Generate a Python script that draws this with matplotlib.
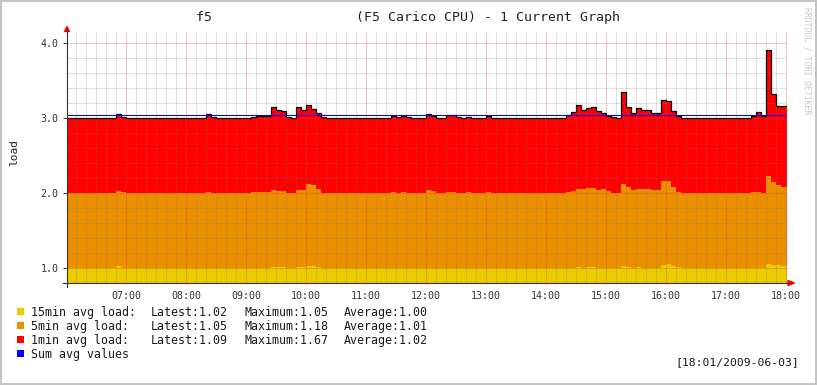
import numpy as np
import matplotlib
matplotlib.use("Agg")
import matplotlib.pyplot as plt
from matplotlib.patches import Rectangle, Polygon
from matplotlib.lines import Line2D

plt.rcParams["font.family"] = ["DejaVu Sans Mono", "DejaVu Sans"]

# ==================== data: 5 min steps from 06:00 to 18:00 ====================
# one row = one hour (12 steps)
load_15min = [
    1.00, 1.00, 1.00, 1.00, 1.00, 1.00, 1.00, 1.00, 1.00, 1.00, 1.02, 1.005,
    1.00, 1.00, 1.00, 1.00, 1.00, 1.00, 1.00, 1.00, 1.00, 1.00, 1.00, 1.00,
    1.00, 1.00, 1.00, 1.00, 1.00, 1.00, 1.00, 1.00, 1.00, 1.00, 1.00, 1.00,
    1.00, 1.00, 1.00, 1.00, 1.00, 1.015, 1.01, 1.01, 1.00, 1.00, 1.01, 1.01,
    1.03, 1.03, 1.015, 1.00, 1.00, 1.00, 1.00, 1.00, 1.00, 1.00, 1.00, 1.00,
    1.00, 1.00, 1.00, 1.00, 1.00, 1.00, 1.00, 1.00, 1.00, 1.00, 1.00, 1.00,
    1.00, 1.00, 1.00, 1.00, 1.00, 1.00, 1.00, 1.00, 1.00, 1.00, 1.00, 1.00,
    1.00, 1.00, 1.00, 1.00, 1.00, 1.00, 1.00, 1.00, 1.00, 1.00, 1.00, 1.00,
    1.00, 1.00, 1.00, 1.00, 1.00, 1.00, 1.01, 1.00, 1.01, 1.01, 1.00, 1.00,
    1.00, 1.00, 1.00, 1.02, 1.01, 1.00, 1.01, 1.00, 1.00, 1.00, 1.00, 1.04,
    1.05, 1.03, 1.01, 1.00, 1.00, 1.00, 1.00, 1.00, 1.00, 1.00, 1.00, 1.00,
    1.00, 1.00, 1.00, 1.00, 1.00, 1.00, 1.00, 1.00, 1.05, 1.045, 1.04, 1.03,
]
load_5min = [
    1.00, 1.00, 1.00, 1.00, 1.00, 1.00, 1.00, 1.00, 1.00, 1.00, 1.01, 1.005,
    1.00, 1.00, 1.00, 1.00, 1.00, 1.00, 1.00, 1.00, 1.00, 1.00, 1.00, 1.00,
    1.00, 1.00, 1.00, 1.00, 1.01, 1.00, 1.00, 1.00, 1.00, 1.00, 1.00, 1.00,
    1.00, 1.01, 1.01, 1.01, 1.01, 1.03, 1.02, 1.02, 1.005, 1.005, 1.03, 1.03,
    1.09, 1.07, 1.04, 1.00, 1.00, 1.00, 1.00, 1.00, 1.00, 1.00, 1.00, 1.00,
    1.00, 1.00, 1.00, 1.00, 1.00, 1.018, 1.00, 1.018, 1.00, 1.00, 1.00, 1.00,
    1.045, 1.02, 1.00, 1.00, 1.018, 1.018, 1.00, 1.00, 1.01, 1.00, 1.00, 1.00,
    1.01, 1.00, 1.00, 1.00, 1.00, 1.00, 1.00, 1.00, 1.00, 1.00, 1.00, 1.00,
    1.00, 1.00, 1.00, 1.00, 1.013, 1.02, 1.048, 1.05, 1.052, 1.057, 1.04, 1.05,
    1.02, 1.005, 1.005, 1.105, 1.07, 1.035, 1.048, 1.05, 1.058, 1.035, 1.035, 1.12,
    1.11, 1.05, 1.008, 1.00, 1.00, 1.00, 1.00, 1.00, 1.00, 1.00, 1.00, 1.00,
    1.00, 1.00, 1.00, 1.00, 1.00, 1.013, 1.018, 1.00, 1.18, 1.105, 1.06, 1.045,
]
load_1min = [
    1.00, 1.00, 1.00, 1.00, 1.00, 1.00, 1.00, 1.00, 1.00, 1.00, 1.02, 1.00,
    1.00, 1.00, 1.00, 1.00, 1.00, 1.00, 1.00, 1.00, 1.00, 1.00, 1.00, 1.00,
    1.00, 1.00, 1.00, 1.00, 1.04, 1.01, 1.00, 1.00, 1.00, 1.00, 1.00, 1.00,
    1.00, 1.00, 1.01, 1.01, 1.01, 1.105, 1.07, 1.06, 1.005, 0.99, 1.10, 1.06,
    1.05, 1.02, 1.005, 1.01, 1.00, 1.00, 1.00, 1.00, 1.00, 1.00, 1.00, 1.00,
    1.00, 1.00, 1.00, 1.00, 1.00, 1.012, 1.01, 1.002, 1.01, 1.00, 1.00, 1.00,
    1.005, 1.00, 1.00, 1.00, 1.017, 1.017, 1.01, 1.00, 1.00, 1.00, 1.00, 1.00,
    1.01, 1.00, 1.00, 1.00, 1.00, 1.00, 1.00, 1.00, 1.00, 1.00, 1.00, 1.00,
    1.00, 1.00, 1.00, 1.00, 1.027, 1.055, 1.112, 1.055, 1.068, 1.078, 1.05, 1.015,
    1.01, 1.01, 0.99, 1.215, 1.065, 1.035, 1.072, 1.055, 1.047, 1.025, 1.025, 1.08,
    1.065, 1.01, 1.002, 1.00, 1.00, 1.00, 1.00, 1.00, 1.00, 1.00, 1.00, 1.00,
    1.00, 1.00, 1.00, 1.00, 1.00, 1.007, 1.067, 1.02, 1.67, 1.175, 1.06, 1.085,
]
hour_labels = ["07:00", "08:00", "09:00", "10:00", "11:00", "12:00",
               "13:00", "14:00", "15:00", "16:00", "17:00", "18:00"]
y_labels = ["1.0", "2.0", "3.0", "4.0"]

series_names = ["15min avg load:", "5min avg load:", "1min avg load:"]
latest = [1.02, 1.05, 1.09]
maximum = [1.05, 1.18, 1.67]
average = [1.00, 1.01, 1.02]

c15 = "#EACC00"
c5 = "#EA8F00"
c1 = "#FF0000"
cblue = "#0000FF"

# ==================== figure ====================
W, H = 817, 385
fig = plt.figure(figsize=(W / 100, H / 100), dpi=100, facecolor="white")


def fx(x):
    return x / W


def fy(y):
    return 1 - y / H


ax = fig.add_axes([fx(67), fy(283), fx(787) - fx(67), fy(31.7) - fy(283)])

step = 5
edges = np.arange(0, 720 + step, step).astype(float)
edges[-1] = 721  # graph ends at 18:01
s15 = np.array(load_15min)
s5 = s15 + np.array(load_5min)
s1 = s5 + np.array(load_1min)

# painter order: top stack first
ax.stairs(s1, edges, baseline=0, fill=True, color=c1, lw=0, zorder=1)
ax.stairs(s5, edges, baseline=0, fill=True, color=c5, lw=0, zorder=1.1)
ax.stairs(s15, edges, baseline=0, fill=True, color=c15, lw=0, zorder=1.2)
ax.stairs(s1, edges, baseline=None, color="black", lw=0.9, zorder=3)

sum_avg = np.mean(load_15min) + np.mean(load_5min) + np.mean(load_1min)
ax.axhline(sum_avg, color=cblue, lw=0.75, zorder=3.5)

ax.set_xlim(1, 721)
ax.set_ylim(0.8, 4.15)
ax.set_xticks(np.arange(60, 721, 60), hour_labels)
ax.set_xticks(np.arange(10, 721, 10), minor=True)
ax.set_yticks([1.0, 2.0, 3.0, 4.0], y_labels)
ax.set_yticks(np.arange(0.8, 4.15, 0.2), minor=True)
ax.set_axisbelow(False)
ax.grid(which="major", color=(0.85, 0.25, 0.25), alpha=0.32, lw=0.72)
ax.grid(which="minor", color=(0.45, 0.45, 0.45), alpha=0.22, lw=0.72)
ax.tick_params(axis="x", which="both", length=0, pad=6, labelsize=7.2, labelcolor="#333333")
ax.tick_params(axis="y", which="major", length=3, width=0.72, color="#404040",
               pad=3, labelsize=7.2, labelcolor="#333333")
ax.tick_params(axis="y", which="minor", length=0)
for sp in ax.spines.values():
    sp.set_visible(False)

# axes + arrows
axc = "#333333"
fig.add_artist(Line2D([fx(63), fx(789)], [fy(283), fy(283)], color=axc, lw=0.8))
fig.add_artist(Line2D([fx(67), fx(67)], [fy(287), fy(30)], color=axc, lw=0.8))
fig.add_artist(Polygon([(fx(788), fy(280.5)), (fx(794.5), fy(283)), (fx(788), fy(285.5))],
                       closed=True, color="red", transform=fig.transFigure))
fig.add_artist(Polygon([(fx(64.5), fy(31.5)), (fx(67), fy(26.5)), (fx(69.5), fy(31.5))],
                       closed=True, color="red", transform=fig.transFigure))

# texts
fig.text(fx(408), fy(17), "f5" + " " * 18 + "(F5 Carico CPU) - 1 Current Graph",
         ha="center", va="center", fontsize=9.5, color="#222222")
fig.text(fx(14), fy(153), "load", rotation=90, ha="center", va="center",
         fontsize=8, color="#222222")
fig.text(fx(807), fy(61), "RRDTOOL / TOBI OETIKER", rotation=270, ha="center",
         va="center", fontsize=5.8, color="#c8c8c8")

# legend
colors = [c15, c5, c1]
for i, name in enumerate(series_names):
    yb = 316 + 14 * i
    fig.add_artist(Rectangle((fx(17.3), fy(yb - 0.8)), 7 / W, 7 / H, facecolor=colors[i],
                             edgecolor="none", transform=fig.transFigure))
    fig.text(fx(30.7), fy(yb), name, ha="left", va="baseline", fontsize=8.4, color="#1a1a1a")
    fig.text(fx(151), fy(yb), "Latest:%.2f" % latest[i], ha="left", va="baseline",
             fontsize=8.4, color="#1a1a1a")
    fig.text(fx(244.3), fy(yb), "Maximum:%.2f" % maximum[i], ha="left", va="baseline",
             fontsize=8.4, color="#1a1a1a")
    fig.text(fx(344), fy(yb), "Average:%.2f" % average[i], ha="left", va="baseline",
             fontsize=8.4, color="#1a1a1a")
yb = 316 + 14 * 3
fig.add_artist(Rectangle((fx(17.3), fy(yb - 0.8)), 7 / W, 7 / H, facecolor=cblue,
                         edgecolor="none", transform=fig.transFigure))
fig.text(fx(30.7), fy(yb), "Sum avg values", ha="left", va="baseline", fontsize=8.4,
         color="#1a1a1a")

fig.text(fx(799), fy(362.5), "[18:01/2009-06-03]", ha="right", va="center",
         fontsize=8.2, color="#1a1a1a")

# grey frame
fig.add_artist(Rectangle((0, 0), 1, 1, fill=False, edgecolor="#c4c4c4", lw=2.9,
                         transform=fig.transFigure))

fig.savefig("out.png", dpi=100, facecolor="white")
